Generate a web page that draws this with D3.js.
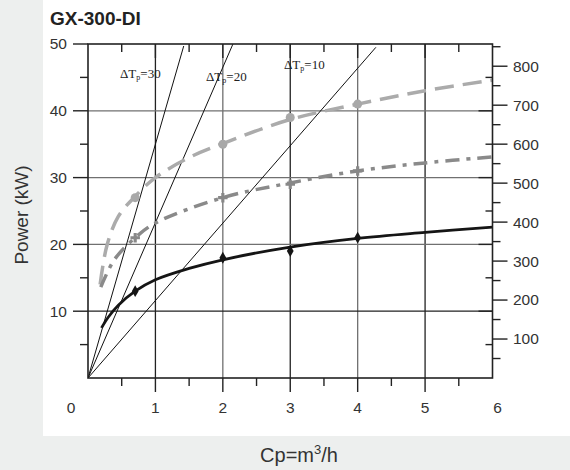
<!DOCTYPE html>
<html><head><meta charset="utf-8">
<script src="https://cdn.jsdelivr.net/npm/d3@7"></script>
<style>
  body{margin:0;background:#edefee}
  svg{display:block}
</style>
</head><body>
<svg id="chart" width="570" height="470"></svg>
<script>
// ---- data ----
const title = "GX-300-DI";
const powerTicks = [10, 20, 30, 40, 50];          // kW, left axis
const flowTickLabels = [1, 2, 3, 4, 5, 6];        // m3/h, bottom axis
const rightTicks = [100, 200, 300, 400, 500, 600, 700, 800];

// temperature-difference lines through the origin: [Cp, kW] end points
const deltaT = [30, 20, 10];
const deltaTEnds = [[1.42, 49.7], [2.15, 50], [4.27, 49.5]];

// capacity curves (Cp m3/h, kW)
const upperCurve = [[0.18, 14], [0.28, 19.8], [0.45, 24.2], [0.7, 27.2], [1, 30], [1.5, 33], [2, 35.1], [3, 38.7], [4, 41], [5, 43], [6, 44.6]];
const upperPoints = [[0.7, 27], [2, 35], [3, 39], [4, 41]];

const middleCurve = [[0.19, 13.6], [0.39, 17.7], [0.7, 21], [1, 23.2], [2, 27], [3, 29.2], [4, 31], [5, 32.2], [6, 33.1]];
const middlePoints = [[0.7, 21], [2, 27], [3, 29], [4, 31]];

const lowerCurve = [[0.2, 7.5], [0.3, 9.1], [0.45, 10.9], [0.7, 13], [1, 14.7], [1.5, 16.4], [2, 17.7], [3, 19.6], [4, 20.9], [5, 21.8], [6, 22.6]];
const lowerPoints = [[0.7, 13], [2, 18], [3, 19], [4, 21]];

// ---- layout ----
const svg = d3.select("#chart");
const L = 88, R = 492.5, T = 44, B = 378;
const x = d3.scaleLinear().domain([0, 6]).range([L, R]);
const y = d3.scaleLinear().domain([0, 50]).range([B, T]);
const y2 = d3.scaleLinear().domain([0, 857]).range([B, T]);

const DARK = "#222", GRID_GRAY = "#707070", TXT = "#333";
const FONT = "'Liberation Sans', Arial, sans-serif";

// white panel
svg.append("rect").attr("x", 43).attr("y", 0).attr("width", 527).attr("height", 436).attr("fill", "#fff");

// title
svg.append("text").attr("x", 50).attr("y", 25)
  .attr("font-family", FONT).attr("font-weight", "bold").attr("font-size", 19)
  .attr("fill", "#222").text(title);

// clip
svg.append("clipPath").attr("id", "plotClip").append("rect")
  .attr("x", L).attr("y", T).attr("width", R - L).attr("height", B - T);

// grid lines
const g = svg.append("g");
[1, 2, 3, 4, 5].forEach(v => {
  g.append("line").attr("x1", x(v)).attr("x2", x(v)).attr("y1", T).attr("y2", B)
    .attr("stroke", v % 2 === 0 ? GRID_GRAY : DARK).attr("stroke-width", 1.3);
});
[10, 20, 30, 40].forEach(v => {
  g.append("line").attr("x1", L).attr("x2", R).attr("y1", y(v)).attr("y2", y(v))
    .attr("stroke", v === 10 ? DARK : GRID_GRAY).attr("stroke-width", 1.3);
});

const plot = svg.append("g").attr("clip-path", "url(#plotClip)");

// ΔT lines
deltaTEnds.forEach(e => {
  plot.append("line").attr("x1", x(0)).attr("y1", y(0)).attr("x2", x(e[0])).attr("y2", y(e[1]))
    .attr("stroke", "#111").attr("stroke-width", 1);
});

const line = d3.line().x(d => x(d[0])).y(d => y(d[1])).curve(d3.curveCatmullRom.alpha(0.5));

// upper curve: light gray long dashes with round markers
plot.append("path").attr("d", line(upperCurve)).attr("fill", "none")
  .attr("stroke", "#ababab").attr("stroke-width", 3.5).attr("stroke-dasharray", "19,9");
plot.selectAll(".up").data(upperPoints).join("circle")
  .attr("cx", d => x(d[0])).attr("cy", d => y(d[1])).attr("r", 4.5).attr("fill", "#a8a8a8");

// middle curve: dash-dot with cross markers
plot.append("path").attr("d", line(middleCurve)).attr("fill", "none")
  .attr("stroke", "#8a8a8a").attr("stroke-width", 3.5).attr("stroke-dasharray", "14,7,4,7");
plot.selectAll(".mid").data(middlePoints).join("path")
  .attr("transform", d => `translate(${x(d[0])},${y(d[1])})`)
  .attr("d", d3.symbol(d3.symbolCross, 50)).attr("fill", "#888");

// lower curve: solid black with diamond markers
plot.append("path").attr("d", line(lowerCurve)).attr("fill", "none")
  .attr("stroke", "#151515").attr("stroke-width", 2.8);
plot.selectAll(".low").data(lowerPoints).join("path")
  .attr("transform", d => `translate(${x(d[0])},${y(d[1])})`)
  .attr("d", d3.symbol(d3.symbolDiamond, 40)).attr("fill", "#151515");

// frame
svg.append("rect").attr("x", L).attr("y", T).attr("width", R - L).attr("height", B - T)
  .attr("fill", "none").attr("stroke", DARK).attr("stroke-width", 1.6);

// bottom axis ticks (outward) and top ticks (inward)
const halfSteps = d3.range(1, 12).map(i => i * 0.5);
halfSteps.forEach(v => {
  const major = Number.isInteger(v);
  const len = major ? 14 : 8;
  svg.append("line").attr("x1", x(v)).attr("x2", x(v)).attr("y1", B).attr("y2", B + len)
    .attr("stroke", DARK).attr("stroke-width", 1.4);
  svg.append("line").attr("x1", x(v)).attr("x2", x(v)).attr("y1", T).attr("y2", T + len)
    .attr("stroke", DARK).attr("stroke-width", 1.4);
});

// left axis ticks (outward) and matching inward stubs on the right
d3.range(1, 11).map(i => i * 5).forEach(v => {
  const major = v % 10 === 0;
  const len = major ? 15 : 8;
  svg.append("line").attr("x1", L - len).attr("x2", L).attr("y1", y(v)).attr("y2", y(v))
    .attr("stroke", DARK).attr("stroke-width", 1.4);
  if (v < 50) svg.append("line").attr("x1", R - (major ? 14 : 7)).attr("x2", R).attr("y1", y(v)).attr("y2", y(v))
    .attr("stroke", DARK).attr("stroke-width", 1.4);
});

// right axis ticks (outward)
d3.range(1, 18).map(i => i * 50).forEach(v => {
  const major = v % 100 === 0;
  svg.append("line").attr("x1", R).attr("x2", R + (major ? 15 : 8)).attr("y1", y2(v)).attr("y2", y2(v))
    .attr("stroke", DARK).attr("stroke-width", 1.4);
});

// tick labels
const lab = svg.append("g").attr("font-family", FONT).attr("font-size", 15.5).attr("fill", TXT);
powerTicks.forEach(v => {
  lab.append("text").attr("x", 67).attr("y", y(v)).attr("dy", "0.35em")
    .attr("text-anchor", "end").text(v);
});
rightTicks.forEach(v => {
  lab.append("text").attr("x", 513).attr("y", y2(v)).attr("dy", "0.35em").text(v);
});
flowTickLabels.forEach(v => {
  lab.append("text").attr("x", x(v) + (v === 6 ? 5 : 0)).attr("y", 413)
    .attr("text-anchor", "middle").text(v);
});
lab.append("text").attr("x", 71).attr("y", 413).attr("text-anchor", "middle").text(0);

// axis titles
svg.append("text").attr("transform", `translate(28,${(T + B) / 2 + 4}) rotate(-90)`)
  .attr("text-anchor", "middle").attr("font-family", FONT).attr("font-size", 19).attr("fill", TXT)
  .text("Power (kW)");
const xt = svg.append("text").attr("x", 299).attr("y", 462).attr("text-anchor", "middle")
  .attr("font-family", FONT).attr("font-size", 20).attr("fill", TXT);
xt.append("tspan").text("Cp=m");
xt.append("tspan").attr("font-size", 13).attr("dy", -8).text("3");
xt.append("tspan").attr("dy", 8).text("/h");

// ΔT line labels
const dtPos = [[120, 78], [206, 81], [284, 69]];
deltaT.forEach((v, i) => {
  const t = svg.append("text").attr("x", dtPos[i][0]).attr("y", dtPos[i][1])
    .attr("font-family", "'Liberation Serif', 'Times New Roman', serif").attr("font-size", 13).attr("fill", "#222");
  t.append("tspan").text("ΔT");
  t.append("tspan").attr("font-size", 8).attr("dy", 2).text("p");
  t.append("tspan").attr("dy", -2).text("=" + v);
});
</script>
</body></html>
